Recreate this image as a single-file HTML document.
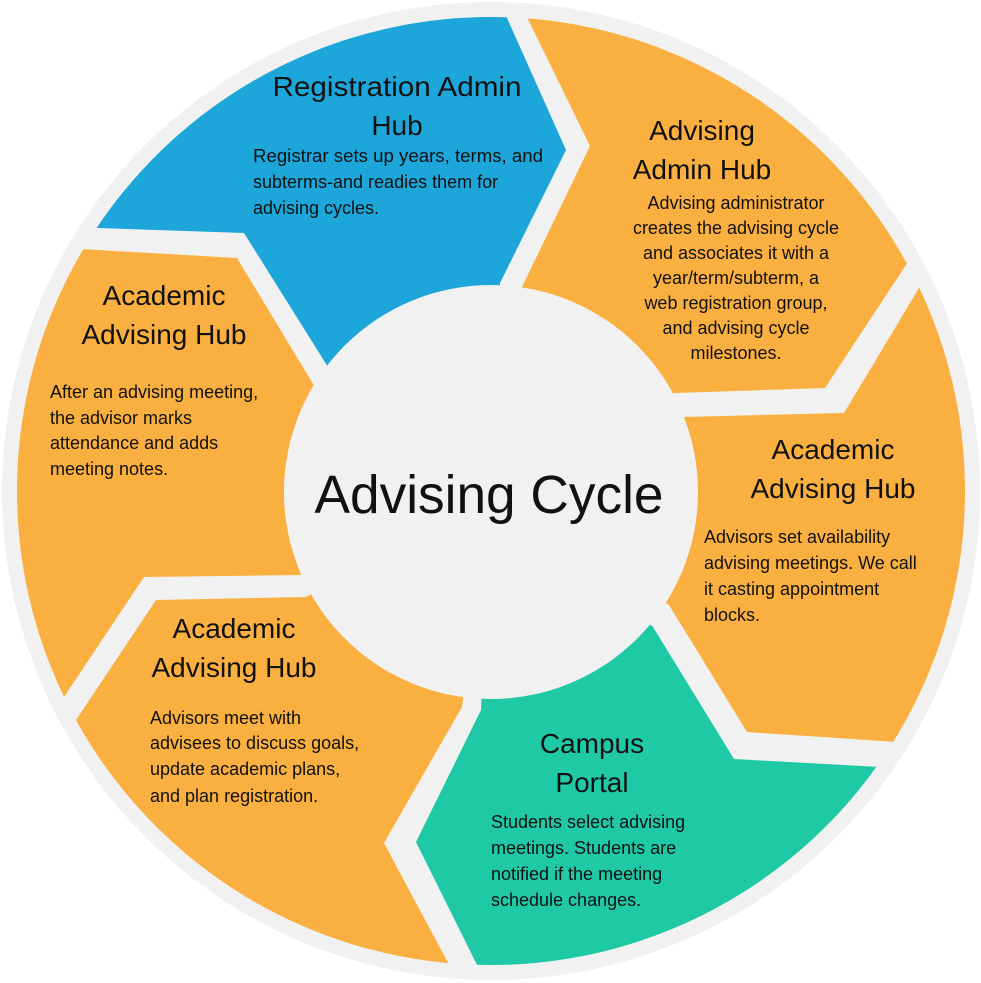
<!DOCTYPE html>
<html><head><meta charset="utf-8"><style>
html,body{margin:0;padding:0;background:#fff;}
svg{display:block;}
text{font-family:"Liberation Sans",sans-serif;fill:#111;}
.h{font-size:28px;text-anchor:middle;}
.b{font-size:18px;}
.bc{font-size:18px;text-anchor:middle;}
</style></head><body>
<svg width="981" height="983" viewBox="0 0 981 983" xmlns="http://www.w3.org/2000/svg">
<defs><clipPath id="c"><circle cx="491" cy="491" r="474"/></clipPath></defs>
<circle cx="491" cy="491" r="489" fill="#f1f1f1"/>
<g clip-path="url(#c)">
<polygon fill="#1CA6D9" points="40,226 244,233 328,367 491,491 500,283 566,150 490,-20 -20,-20 -20,226"/>
<polygon fill="#F9B040" points="515,-20 525,13 590,146 522,287 491,491 675,393 825,388 906,265 940,213 1000,-20"/>
<polygon fill="#F9B040" points="684,417 844,413 919,288 960,220 1000,220 1000,760 897,742 747,732 669,605 491,491"/>
<polygon fill="#20C9A6" points="653,627 734,759 881,767 1000,770 1000,1000 490,1000 481,973 416,842 481,710 491,491"/>
<polygon fill="#F9B040" points="462,707 384,843 453,972 460,1000 -20,1000 -20,800 40,774 74,723 156,600 306,597 491,491"/>
<polygon fill="#F9B040" points="300,575 144,577 62,700 20,760 -20,760 -20,249 81,249 237,258 315,387 491,491"/>
</g>
<circle cx="491" cy="492" r="207" fill="#f1f1f1"/>
<text x="489" y="513" style="font-size:54px;text-anchor:middle" textLength="349" lengthAdjust="spacingAndGlyphs">Advising Cycle</text>

<text class="h" x="397" y="96" textLength="249" lengthAdjust="spacingAndGlyphs">Registration Admin</text>
<text class="h" x="397" y="135">Hub</text>
<text class="b" x="253" y="162" textLength="290" lengthAdjust="spacingAndGlyphs">Registrar sets up years, terms, and</text>
<text class="b" x="253" y="188">subterms-and readies them for</text>
<text class="b" x="253" y="214">advising cycles.</text>

<text class="h" x="702" y="140">Advising</text>
<text class="h" x="702" y="179">Admin Hub</text>
<text class="bc" x="736" y="209">Advising administrator</text>
<text class="bc" x="736" y="234">creates the advising cycle</text>
<text class="bc" x="736" y="259">and associates it with a</text>
<text class="bc" x="736" y="284">year/term/subterm, a</text>
<text class="bc" x="736" y="309">web registration group,</text>
<text class="bc" x="736" y="334">and advising cycle</text>
<text class="bc" x="736" y="359">milestones.</text>

<text class="h" x="164" y="305">Academic</text>
<text class="h" x="164" y="344">Advising Hub</text>
<text class="b" x="50" y="398">After an advising meeting,</text>
<text class="b" x="50" y="424">the advisor marks</text>
<text class="b" x="50" y="449">attendance and adds</text>
<text class="b" x="50" y="475">meeting notes.</text>

<text class="h" x="833" y="459">Academic</text>
<text class="h" x="833" y="498">Advising Hub</text>
<text class="b" x="704" y="543">Advisors set availability</text>
<text class="b" x="704" y="569">advising meetings. We call</text>
<text class="b" x="704" y="595">it casting appointment</text>
<text class="b" x="704" y="621">blocks.</text>

<text class="h" x="234" y="638">Academic</text>
<text class="h" x="234" y="677">Advising Hub</text>
<text class="b" x="150" y="724">Advisors meet with</text>
<text class="b" x="150" y="749">advisees to discuss goals,</text>
<text class="b" x="150" y="775">update academic plans,</text>
<text class="b" x="150" y="802">and plan registration.</text>

<text class="h" x="592" y="753">Campus</text>
<text class="h" x="592" y="792">Portal</text>
<text class="b" x="491" y="828">Students select advising</text>
<text class="b" x="491" y="854">meetings. Students are</text>
<text class="b" x="491" y="880">notified if the meeting</text>
<text class="b" x="491" y="906">schedule changes.</text>
</svg>
</body></html>
